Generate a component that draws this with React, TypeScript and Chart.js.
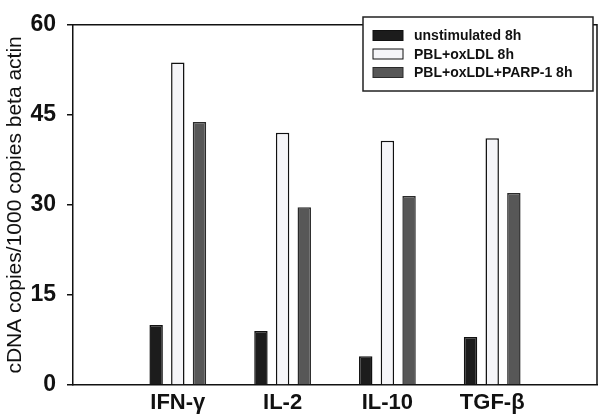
import React, { useEffect, useRef } from "react";
import { Chart, registerables } from "chart.js";

Chart.register(...registerables);

const categories = ["", "IFN-γ", "IL-2", "IL-10", "TGF-β", ""];
const seriesLabels = ["unstimulated 8h", "PBL+oxLDL 8h", "PBL+oxLDL+PARP-1 8h"];
const unstimulated = [null, 10, 9, 4.8, 8, null];
const pblOxLDL = [null, 53.7, 42, 40.7, 41.1, null];
const pblOxLDLParp = [null, 43.8, 29.6, 31.5, 32, null];
const yTicks = [0, 15, 30, 45, 60];
const yTitle = "cDNA copies/1000 copies beta actin";

const fills = ["#1c1c1c", "#f5f5f8", "#575757"];
const borders = ["#111111", "#111111", "#2a2a2a"];

const framePlugin = {
  id: "frameAndLegend",
  afterDraw(chart: any) {
    const { ctx, chartArea } = chart;
    ctx.save();
    ctx.strokeStyle = "#111";
    ctx.lineWidth = 1.5;
    ctx.beginPath();
    ctx.moveTo(chartArea.left, chartArea.top);
    ctx.lineTo(chartArea.right, chartArea.top);
    ctx.lineTo(chartArea.right, chartArea.bottom);
    ctx.stroke();

    // legend box
    const bx = 363, by = 17, bw = 230, bh = 74;
    ctx.fillStyle = "#fff";
    ctx.fillRect(bx, by, bw, bh);
    ctx.strokeStyle = "#222";
    ctx.lineWidth = 1.5;
    ctx.strokeRect(bx, by, bw, bh);
    ctx.font = "bold 14px 'Liberation Sans', Arial, sans-serif";
    ctx.textBaseline = "middle";
    ctx.textAlign = "left";
    chart.data.datasets.forEach((ds: any, i: number) => {
      const cy = 35.5 + i * 18.5;
      ctx.fillStyle = ds.backgroundColor;
      ctx.fillRect(373, cy - 5, 30, 10);
      ctx.strokeStyle = ds.borderColor;
      ctx.lineWidth = 1;
      ctx.strokeRect(373, cy - 5, 30, 10);
      ctx.fillStyle = "#111";
      ctx.fillText(ds.label, 414, cy + 1);
    });
    ctx.restore();
  },
};

export default function App() {
  const ref = useRef<HTMLCanvasElement | null>(null);
  useEffect(() => {
    if (!ref.current) return;
    const seriesData = [unstimulated, pblOxLDL, pblOxLDLParp];
    const chart = new Chart(ref.current, {
      type: "bar",
      data: {
        labels: categories,
        datasets: seriesData.map((d, i) => ({
          label: seriesLabels[i],
          data: d as any,
          backgroundColor: fills[i],
          borderColor: borders[i],
          borderWidth: 1.5,
          barPercentage: 0.62,
          categoryPercentage: 0.62,
        })),
      },
      options: {
        responsive: false,
        animation: false,
        devicePixelRatio: 1,
        layout: { padding: { top: 10, right: 3, left: 0, bottom: 0 } },
        plugins: { legend: { display: false }, tooltip: { enabled: false } },
        scales: {
          x: {
            offset: false,
            grid: { display: false },
            border: { display: true, color: "#111", width: 1.5 },
            ticks: {
              color: "#111",
              padding: -3,
              maxRotation: 0,
              autoSkip: false,
              font: { family: "'Liberation Sans', Arial, sans-serif", size: 22, weight: "bold" },
            },
            afterFit: (s: any) => { s.height = 35; },
          },
          y: {
            min: 0,
            max: 60,
            afterBuildTicks: (s: any) => { s.ticks = yTicks.map((v) => ({ value: v })); },
            grid: { display: true, drawOnChartArea: false, drawTicks: true, tickLength: 6, color: "#111", lineWidth: 1.5 },
            border: { display: true, color: "#111", width: 1.5 },
            ticks: {
              color: "#111",
              padding: 11,
              font: { family: "'Liberation Sans', Arial, sans-serif", size: 23, weight: "bold" },
            },
            title: {
              display: true,
              text: yTitle,
              color: "#111",
              padding: { top: 3, bottom: 0 },
              font: { family: "'Liberation Sans', Arial, sans-serif", size: 21, weight: "normal" },
            },
            afterFit: (s: any) => { s.width = 73; },
          },
        },
      },
      plugins: [framePlugin],
    });
    return () => chart.destroy();
  }, []);
  return (
    <div style={{ position: "fixed", left: 0, top: 0, width: 600, height: 420, background: "#fff" }}>
      <canvas ref={ref} width={600} height={420} />
    </div>
  );
}
